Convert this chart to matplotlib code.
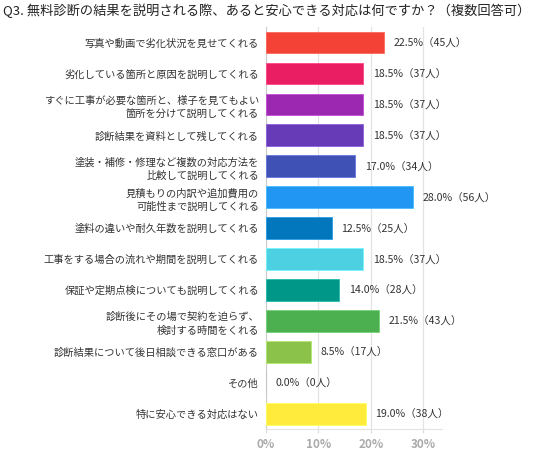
import matplotlib
matplotlib.use("Agg")
import matplotlib.pyplot as plt

plt.rcParams['font.family'] = ['Noto Sans CJK JP', 'DejaVu Sans']

title = "Q3. 無料診断の結果を説明される際、あると安心できる対応は何ですか？（複数回答可）"
categories = [
    "写真や動画で劣化状況を見せてくれる",
    "劣化している箇所と原因を説明してくれる",
    "すぐに工事が必要な箇所と、様子を見てもよい\n箇所を分けて説明してくれる",
    "診断結果を資料として残してくれる",
    "塗装・補修・修理など複数の対応方法を\n比較して説明してくれる",
    "見積もりの内訳や追加費用の\n可能性まで説明してくれる",
    "塗料の違いや耐久年数を説明してくれる",
    "工事をする場合の流れや期間を説明してくれる",
    "保証や定期点検についても説明してくれる",
    "診断後にその場で契約を迫らず、\n検討する時間をくれる",
    "診断結果について後日相談できる窓口がある",
    "その他",
    "特に安心できる対応はない",
]
percents = [22.5, 18.5, 18.5, 18.5, 17.0, 28.0, 12.5, 18.5, 14.0, 21.5, 8.5, 0.0, 19.0]
counts = [45, 37, 37, 37, 34, 56, 25, 37, 28, 43, 17, 0, 38]
colors = ["#F44336", "#E91E63", "#9C27B0", "#673AB7", "#3F51B5", "#2196F3",
          "#0277BD", "#4DD0E1", "#009688", "#4CAF50", "#8BC34A", "#9E9E9E", "#FFEB3B"]
xticks = [0, 10, 20, 30]
xtick_labels = ["0%", "10%", "20%", "30%"]

fig = plt.figure(figsize=(5.36, 4.53), dpi=100)
ax = fig.add_axes([0.4963, 0.0523, 0.328, 0.8881])

y = list(range(len(categories)))
bars = ax.barh(y, percents, height=0.7, color=colors, linewidth=0.6, zorder=3)
for c, b in zip(colors, bars):
    b.set_edgecolor(matplotlib.colors.to_hex([min(1, v + 0.15) for v in matplotlib.colors.to_rgb(c)]))

for yi, p, n in zip(y, percents, counts):
    ax.annotate(f"{p:.1f}%（{n}人）", xy=(p, yi), xytext=(7, 0), textcoords="offset points",
                va="center", ha="left", fontsize=7.6, color="#333333")

ax.set_xlim(0, 33.5)
ax.set_ylim(len(categories) - 0.5, -0.5)
ax.set_yticks(y)
ax.set_yticklabels(categories, fontsize=7.4, color="#333333", linespacing=1.45)
ax.set_xticks(xticks)
ax.set_xticklabels(xtick_labels, fontsize=8.5, color="#AAAAAA", fontweight="bold")
ax.tick_params(axis="y", length=0, pad=5)
ax.tick_params(axis="x", length=3, color="#DDDDDD", pad=3)
ax.grid(axis="x", color="#E3E3E3", linewidth=0.9, zorder=0)
for s in ["top", "right"]:
    ax.spines[s].set_visible(False)
ax.spines["left"].set_color("#CCCCCC")
ax.spines["bottom"].set_color("#E3E3E3")

fig.text(0.006, 0.976, title, fontsize=9.5, ha="left", va="center", color="#222222")

fig.savefig("out.png", dpi=100)
